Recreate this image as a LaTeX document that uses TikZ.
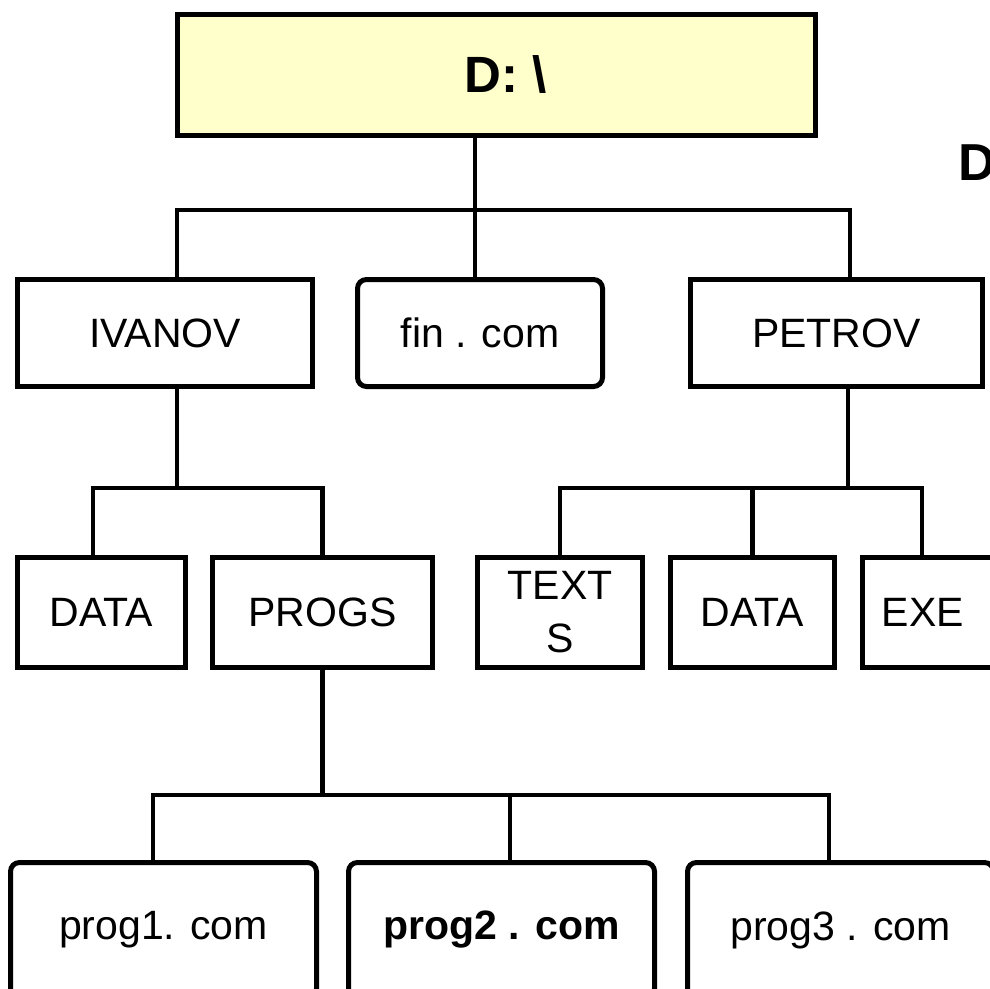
\documentclass[tikz,border=0pt]{standalone}
\usepackage{fontspec}
\setmainfont{Liberation Sans}
\definecolor{rootfill}{HTML}{FFFFCC}
\begin{document}
\begin{tikzpicture}[x=1pt,y=-1pt,
  box/.style={draw,line width=5pt,inner sep=0pt,minimum height=107pt,
    font=\fontsize{41}{53}\selectfont,align=center},
  rbox/.style={box,rounded corners=9pt},
  conn/.style={line width=4.6pt}]
\useasboundingbox (0,0) rectangle (990,988);

% root
\node[box,fill=rootfill,minimum width=638pt,minimum height=121pt,
  font=\bfseries\fontsize{51}{60}\selectfont] (root) at (496.5,75) {\hspace*{18pt}D: \textbackslash};
\node[font=\bfseries\fontsize{52}{60}\selectfont,anchor=west,inner sep=0pt] (title) at (958,163) {D};

% level 1
\node[box,minimum width=295pt] (ivanov) at (165,333) {IVANOV};
\node[rbox,minimum width=245pt] (fin) at (480,333) {fin . com};
\node[box,minimum width=292pt] (petrov) at (836.5,333) {PETROV};

% level 2
\node[box,minimum width=168pt,minimum height=110pt] (data1) at (101.5,612.5) {DATA};
\node[box,minimum width=220pt,minimum height=110pt] (progs) at (322.5,612.5) {PROGS};
\node[box,minimum width=165pt,minimum height=110pt] (texts) at (560,612.5) {TEXT\\S};
\node[box,minimum width=164pt,minimum height=110pt] (data2) at (752.5,612.5) {DATA};
\node[box,minimum width=170pt,minimum height=110pt] (exebox) at (947.5,612.5) {};
\node[font=\fontsize{41}{53}\selectfont,inner sep=0pt] (exe) at (923,612.5) {EXE};

% level 3
\node[rbox,minimum width=306pt,minimum height=135pt] (prog1) at (163.5,930) {prog1. com};
\node[rbox,minimum width=306pt,minimum height=135pt] (prog2) at (501.5,930) {\bfseries prog2 . com};
\node[rbox,minimum width=306pt,minimum height=135pt] (prog3) at (840.5,930) {prog3 . com};

% connectors level 0-1
\coordinate (j1) at (475,210);
\draw[conn] (root.south -| j1) -- (j1);
\draw[conn] ([xshift=12pt]ivanov.north) |- (j1) -| ([xshift=13.5pt]petrov.north);
\draw[conn] (j1) -- (fin.north -| j1);

% IVANOV children
\coordinate (j2) at (177,488);
\draw[conn] (ivanov.south -| j2) -- (j2);
\draw[conn] ([xshift=-8.5pt]data1.north) |- (j2) -| (progs.north);

% PETROV children
\coordinate (j3) at (848,488);
\draw[conn] (petrov.south -| j3) -- (j3);
\draw[conn] (texts.north) |- (j3) -| ([xshift=-25.5pt]exebox.north);
\draw[conn] (data2.north) -- (data2.north |- j3);

% PROGS children
\coordinate (j4) at (322.5,795);
\draw[conn] (progs.south) -- (j4);
\draw[conn] ([xshift=-10.5pt]prog1.north) |- (j4) -| ([xshift=-11.5pt]prog3.north);
\draw[conn] ([xshift=8.5pt]prog2.north) -- ([xshift=8.5pt]prog2.north |- j4);
\end{tikzpicture}
\end{document}
